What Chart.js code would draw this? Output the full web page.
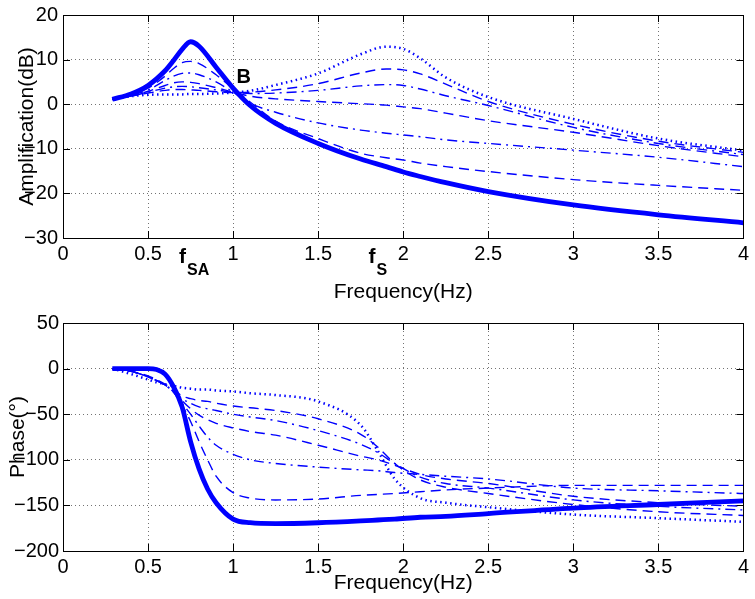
<!DOCTYPE html>
<html>
<head>
<meta charset="utf-8">
<script src="https://cdn.jsdelivr.net/npm/chart.js@4"></script>
<style>
  body { margin: 0; background: #fff; }
  #wrap { position: relative; width: 755px; height: 599px; }
  canvas { position: absolute; left: 0; }
</style>
</head>
<body>
<div id="wrap">
  <canvas id="amp" width="755" height="310" style="top:0"></canvas>
  <canvas id="phase" width="755" height="299" style="top:300px"></canvas>
</div>
<script>
// frequency samples (Hz)
const freqAmp = [0.29, 0.4, 0.5, 0.6, 0.65, 0.7, 0.75, 0.8, 0.9, 1.0, 1.1, 1.25, 1.5, 1.75, 1.9, 2.0, 2.1, 2.25, 2.5, 3.0, 3.5, 4.0];
const freqPhase = [0.29, 0.4, 0.5, 0.55, 0.6, 0.65, 0.7, 0.75, 0.8, 0.85, 0.9, 1.0, 1.1, 1.25, 1.5, 1.75, 1.85, 1.95, 2.1, 2.25, 2.5, 3.0, 3.5, 4.0];

// amplification (dB)
const ampSolid   = [1.1, 2.3, 4.2, 7.5, 9.8, 12.3, 14.0, 13.0, 8.3, 3.6, -0.3, -4.3, -8.8, -12.3, -14.0, -15.2, -16.2, -17.6, -19.6, -22.6, -24.8, -26.6];
const ampDash1   = [1.1, 2.1, 3.6, 6.3, 8.0, 9.3, 9.6, 9.1, 6.6, 3.5, 0.5, -3.8, -7.7, -11.0, -12.0, -12.5, -13.2, -14.0, -15.1, -16.9, -18.2, -19.3];
const ampDashDot1 = [1.1, 2.0, 3.2, 5.3, 6.3, 6.9, 7.0, 6.6, 5.0, 2.7, 0.2, -1.8, -4.2, -5.8, -6.5, -6.9, -7.3, -8.0, -8.8, -10.3, -11.9, -14.0];
const ampDash2   = [1.1, 1.9, 2.9, 4.2, 4.8, 5.0, 4.9, 4.6, 3.7, 2.7, 1.8, 1.2, 0.6, 0.1, -0.2, -0.6, -1.0, -2.0, -3.7, -6.3, -9.3, -11.8];
const ampDashDot2 = [1.1, 1.8, 2.7, 3.6, 3.9, 4.0, 3.9, 3.7, 3.2, 2.7, 2.4, 2.5, 3.1, 4.1, 4.4, 4.2, 3.4, 1.9, -0.3, -5.2, -8.8, -11.3];
const ampDash3   = [1.1, 1.8, 2.5, 3.1, 3.3, 3.3, 3.2, 3.1, 2.8, 2.6, 2.7, 3.2, 4.6, 7.0, 7.9, 7.7, 6.8, 4.5, 0.6, -4.5, -8.3, -10.8];
const ampDotted  = [1.1, 1.8, 2.1, 2.2, 2.2, 2.2, 2.3, 2.3, 2.4, 2.6, 3.0, 4.3, 6.9, 11.2, 12.9, 12.4, 10.3, 6.0, 1.6, -3.3, -7.7, -10.4];

// phase (degrees)
const phSolid    = [0, 0, 0, -1, -6, -20, -42, -80, -110, -132, -147, -165, -169, -170, -169, -167, -166, -165, -163, -162, -159, -153, -149, -145];
const phDash1    = [0, -3, -9, -13, -18, -26, -40, -58, -80, -100, -118, -136, -142, -144, -143, -139, -138, -137, -135, -133, -131, -128, -128, -128];
const phDashDot1 = [0, -3, -9, -13, -18, -26, -38, -50, -63, -75, -84, -94, -100, -104, -108, -111, -112, -114, -116, -118, -121, -131, -134, -137];
const phDash2    = [0, -3, -9, -13, -18, -25, -35, -44, -51, -56, -60, -65, -69, -73, -84, -96, -100, -106, -116, -121, -126, -140, -147, -151];
const phDashDot2 = [0, -3, -9, -13, -18, -25, -33, -38, -42, -44, -46, -50, -53, -57, -68, -83, -92, -104, -119, -126, -131, -144, -151, -155];
const phDash3    = [0, -3, -8, -12, -17, -23, -30, -33, -35, -36, -38, -41, -43, -46, -55, -72, -86, -104, -122, -130, -137, -149, -157, -161];
const phDotted   = [0, -6, -12, -15, -17, -19, -21, -22, -23, -23, -24, -25, -27, -29, -36, -62, -90, -121, -142, -147, -152, -160, -164, -168];

const xTicks = [0, 0.5, 1, 1.5, 2, 2.5, 3, 3.5, 4];

const BLUE = '#0000ff';
const FONT = '"Liberation Sans", Arial, Helvetica, sans-serif';

function pts(xs, ys) {
    return xs.map((x, i) => ({ x: x, y: ys[i] }));
}

function makeSets(xs, solid, d1, dd1, d2, dd2, d3, dot) {
    const base = { borderColor: BLUE, pointRadius: 0, fill: false, cubicInterpolationMode: 'monotone' };
    return [
        Object.assign({ data: pts(xs, solid), borderWidth: 4.8 }, base),
        Object.assign({ data: pts(xs, d1), borderWidth: 1.4, borderDash: [10, 6] }, base),
        Object.assign({ data: pts(xs, dd1), borderWidth: 1.4, borderDash: [10, 5, 2, 5] }, base),
        Object.assign({ data: pts(xs, d2), borderWidth: 1.4, borderDash: [10, 6] }, base),
        Object.assign({ data: pts(xs, dd2), borderWidth: 1.4, borderDash: [10, 5, 2, 5] }, base),
        Object.assign({ data: pts(xs, d3), borderWidth: 1.4, borderDash: [10, 6] }, base),
        Object.assign({ data: pts(xs, dot), borderWidth: 2.5, borderDash: [1.5, 3.5] }, base)
    ];
}

// box, inward ticks and the text notes, MATLAB style
const frame = {
    id: 'frame',
    afterDatasetsDraw(chart, args, opts) {
        const { ctx, chartArea: a, scales: { x, y } } = chart;
        ctx.save();
        ctx.strokeStyle = '#000';
        ctx.lineWidth = 1;
        ctx.beginPath();
        x.ticks.forEach(t => {
            const px = Math.round(x.getPixelForValue(t.value)) + 0.5;
            ctx.moveTo(px, a.bottom); ctx.lineTo(px, a.bottom - 7);
            ctx.moveTo(px, a.top); ctx.lineTo(px, a.top + 7);
        });
        y.ticks.forEach(t => {
            const py = Math.round(y.getPixelForValue(t.value)) + 0.5;
            ctx.moveTo(a.left, py); ctx.lineTo(a.left + 7, py);
            ctx.moveTo(a.right, py); ctx.lineTo(a.right - 7, py);
        });
        ctx.stroke();
        ctx.strokeRect(Math.round(a.left) + 0.5, Math.round(a.top) + 0.5,
            Math.round(a.right - a.left), Math.round(a.bottom - a.top));

        ctx.fillStyle = '#000';
        ctx.textBaseline = 'alphabetic';
        (opts.notes || []).forEach(n => {
            ctx.font = 'bold 20px ' + FONT;
            ctx.fillText(n.text, x.getPixelForValue(n.x), y.getPixelForValue(n.y));
        });
        (opts.freqMarks || []).forEach(m => {
            const px = x.getPixelForValue(m.x);
            ctx.font = 'bold 21px ' + FONT;
            ctx.fillText('f', px, a.bottom + 25);
            const w = ctx.measureText('f').width;
            ctx.font = 'bold 16px ' + FONT;
            ctx.fillText(m.sub, px + w + 1, a.bottom + 37);
        });
        ctx.restore();
    }
};

function axisOpts(min, max, step, yTitle, yPad, xPad, yTickPad) {
    const grid = { color: 'rgba(0,0,0,0.55)', lineWidth: 1, drawTicks: false };
    const border = { display: false, dash: [1, 3] };
    return {
        x: {
            type: 'linear', min: 0, max: 4,
            afterBuildTicks: s => { s.ticks = xTicks.map(v => ({ value: v })); },
            ticks: { color: '#000', padding: 6, font: { family: FONT, size: 20, lineHeight: 1 }, callback: v => String(v) },
            grid: grid, border: border,
            title: { display: true, text: 'Frequency(Hz)', color: '#000', font: { family: FONT, size: 21, lineHeight: 1 }, padding: { top: 0, bottom: xPad } }
        },
        y: {
            min: min, max: max,
            ticks: { stepSize: step, color: '#000', padding: yTickPad, font: { family: FONT, size: 20, lineHeight: 1 },
                callback: v => String(v).replace('-', '\u2212') },
            grid: grid, border: border,
            afterFit: s => { s.width = 63; },
            title: { display: true, text: yTitle, color: '#000', font: { family: FONT, size: 21, lineHeight: 1 }, padding: { top: yPad, bottom: 0 } }
        }
    };
}

function makeChart(id, sets, scales, padTop, xHeight, frameOpts) {
    scales.x.afterFit = s => { s.height = xHeight; };
    return new Chart(document.getElementById(id), {
        type: 'line',
        data: { datasets: sets },
        options: {
            responsive: false,
            animation: false,
            devicePixelRatio: 1,
            layout: { padding: { top: padTop, right: 6, left: 0, bottom: 0 } },
            scales: scales,
            plugins: { legend: { display: false }, tooltip: { enabled: false }, frame: frameOpts }
        },
        plugins: [frame]
    });
}

makeChart('amp',
    makeSets(freqAmp, ampSolid, ampDash1, ampDashDot1, ampDash2, ampDashDot2, ampDash3, ampDotted),
    axisOpts(-30, 20, 10, 'Amplification(dB)', 16.5, 7.5, 5),
    10, 72,
    { notes: [{ text: 'B', x: 1.02, y: 4.8 }], freqMarks: [{ x: 0.682, sub: 'SA' }, { x: 1.796, sub: 'S' }] });

makeChart('phase',
    makeSets(freqPhase, phSolid, phDash1, phDashDot1, phDash2, phDashDot2, phDash3, phDotted),
    axisOpts(-200, 50, 50, 'Phase(\u00b0)', 7.5, 5.5, 4),
    23, 48,
    {});
</script>
</body>
</html>
